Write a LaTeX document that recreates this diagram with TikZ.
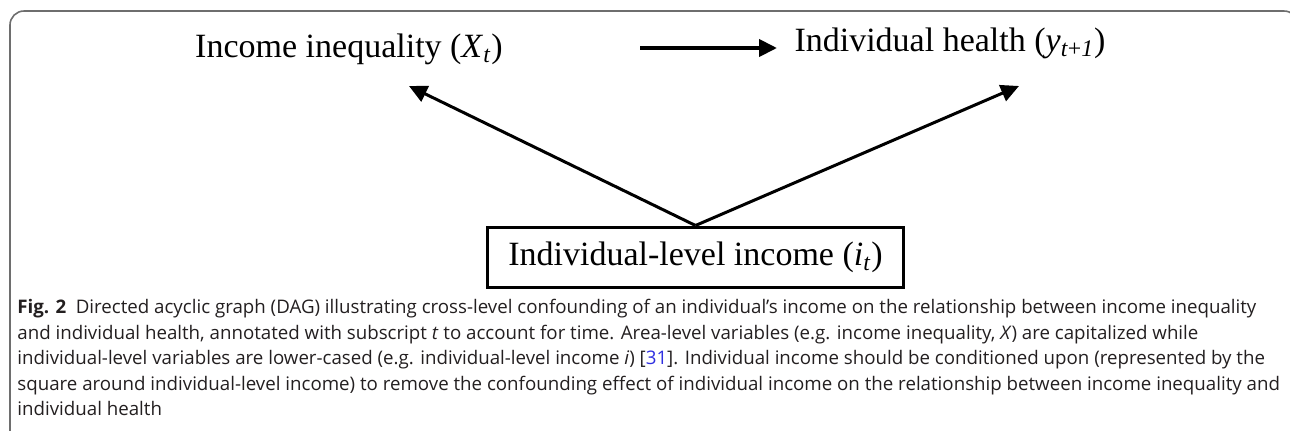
\documentclass[tikz,border=0pt]{standalone}
\usepackage{fontspec}
\setmainfont{Liberation Serif}
\newfontfamily\capfont{Open Sans}
\usetikzlibrary{arrows.meta}
\definecolor{captxt}{HTML}{231F20}
\definecolor{framegray}{HTML}{6E6E6E}
\definecolor{reflink}{HTML}{2F2FE0}

\begin{document}
\begin{tikzpicture}[
        x=0.5pt, y=-0.5pt,
        var/.style={font=\fontsize{17pt}{20pt}\selectfont, inner sep=2pt},
        box/.style={var, draw, line width=1.5pt, minimum width=208pt, minimum height=30pt},
        flow/.style={-{Triangle[length=9pt,width=8.5pt]}, line width=1.5pt},
        captext/.style={font=\capfont\fontsize{9.35pt}{12.75pt}\selectfont, text=captxt, align=left, inner sep=0pt}]

    \useasboundingbox (0,0) rectangle (1290,430);
    % figure frame, cut by the page edge
    \draw[framegray, line width=0.8pt, rounded corners=7pt] (10,440) -- (10,11) -- (1298,11) -- (1298,440);

    \node[var, anchor=base] (ineq)   at (349,57.3) {Income inequality (\textit{X}\textsubscript{\textit{t}})};
    \node[var, anchor=base] (health) at (950,51)   {Individual health (\textit{y}\textsubscript{\textit{t}+\textit{1}})};
    \node[box]              (income) at (695.5,257) {Individual-level income (\textit{i}\textsubscript{\textit{t}})};

    \coordinate (hstart) at (640,48);
    \coordinate (hend)   at (777,48);
    \coordinate (ltip)   at (409,86);
    \coordinate (rtip)   at (1019,86);

    \draw[flow, line width=2pt] (hstart) -- (hend);
    \draw[flow] (income.north) -- (ltip);
    \draw[flow] (income.north) -- (rtip);

    % caption
    \node[captext, anchor=north west] (caption) at (17,299) {%
        \textbf{Fig. 2}\enspace Directed acyclic graph (DAG) illustrating cross-level confounding of an individual’s income on the relationship between income inequality\\
        and individual health, annotated with subscript \textit{t} to account for time. Area-level variables (e.g. income inequality, \textit{X}) are capitalized while\\
        individual-level variables are lower-cased (e.g. individual-level income \textit{i}) [\textcolor{reflink}{31}]. Individual income should be conditioned upon (represented by the\\
        square around individual-level income) to remove the confounding effect of individual income on the relationship between income inequality and\\
        individual health};

\end{tikzpicture}
\end{document}
